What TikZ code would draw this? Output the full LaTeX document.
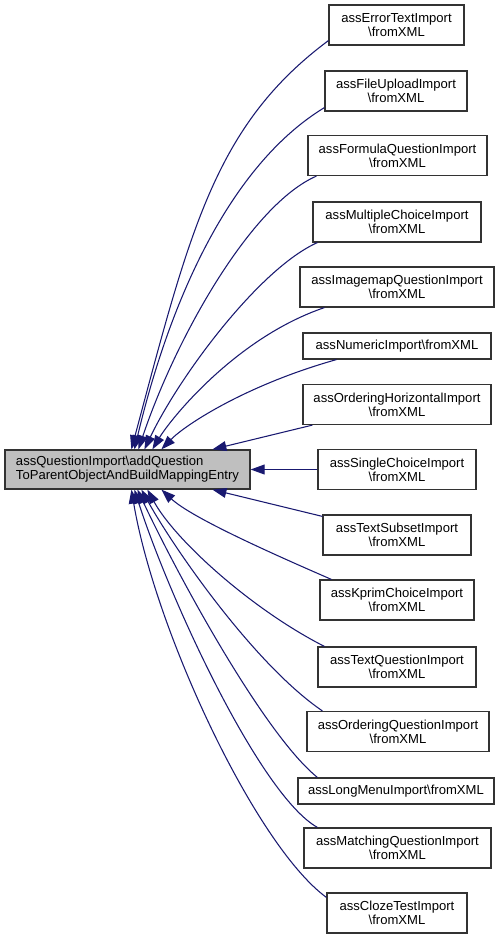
\documentclass[tikz,border=0pt]{standalone}
\usepackage{fontspec}
\setmainfont{Liberation Sans}
\usetikzlibrary{arrows.meta,calc}
\definecolor{edgeblue}{HTML}{191970}
\definecolor{mainfill}{HTML}{BFBFBF}
\newdimen\pxu \pxu=0.75pt
\begin{document}
\begin{tikzpicture}[x=0.75pt,y=-0.75pt,
  box/.style={draw=black!80, line width=0.9pt, fill=white,
    font=\fontsize{9.8pt}{10.5pt}\selectfont, inner sep=0pt, align=center,
    minimum height=40\pxu},
  leaf/.style={box},
  oneline/.style={box, minimum height=26\pxu},
  mainbox/.style={box, fill=mainfill, align=left, text width=223\pxu,
    inner xsep=11\pxu, minimum height=39\pxu},
  edge/.style={draw=edgeblue, line width=0.8pt,
    -{Triangle[length=10.5pt,width=7.4pt]}}
]
\useasboundingbox (0,0) rectangle (501,940);

\node[mainbox] (m) at (127.5,469.5) {assQuestionImport\textbackslash addQuestion\\ToParentObjectAndBuildMappingEntry};

\node[leaf, minimum width=135\pxu] (e1) at (396.5,25) {assErrorTextImport\\\textbackslash fromXML};
\node[leaf, minimum width=142\pxu] (e2) at (396,91) {assFileUploadImport\\\textbackslash fromXML};
\node[leaf, minimum width=179\pxu] (e3) at (397.5,155.5) {assFormulaQuestionImport\\\textbackslash fromXML};
\node[leaf, minimum width=168\pxu] (e4) at (397,222) {assMultipleChoiceImport\\\textbackslash fromXML};
\node[leaf, minimum width=194\pxu] (e5) at (397,287) {assImagemapQuestionImport\\\textbackslash fromXML};
\node[oneline, minimum width=188\pxu] (e6) at (397,346) {assNumericImport\textbackslash fromXML};
\node[leaf, minimum width=188\pxu] (e7) at (397,404.5) {assOrderingHorizontalImport\\\textbackslash fromXML};
\node[leaf, minimum width=158\pxu] (e8) at (397,469.5) {assSingleChoiceImport\\\textbackslash fromXML};
\node[leaf, minimum width=148\pxu] (e9) at (397,535) {assTextSubsetImport\\\textbackslash fromXML};
\node[leaf, minimum width=154\pxu] (e10) at (397,600) {assKprimChoiceImport\\\textbackslash fromXML};
\node[leaf, minimum width=158\pxu] (e11) at (397,667) {assTextQuestionImport\\\textbackslash fromXML};
\node[leaf, minimum width=182\pxu] (e12) at (398,731.5) {assOrderingQuestionImport\\\textbackslash fromXML};
\node[oneline, minimum width=196\pxu] (e13) at (396,791) {assLongMenuImport\textbackslash fromXML};
\node[leaf, minimum width=187\pxu] (e14) at (397.5,848) {assMatchingQuestionImport\\\textbackslash fromXML};
\node[leaf, minimum width=140\pxu] (e15) at (397,913) {assClozeTestImport\\\textbackslash fromXML};

% upper edges
\draw[edge] ($(e1.south west)+(0,-5)$) .. controls (215,125) and (190,230) .. ($(m.north west)+(127,0)$);
\draw[edge] ($(e2.south west)+(0,-4)$) .. controls (230,165) and (170,300) .. ($(m.north west)+(130,0)$);
\draw[edge] ($(e3.south west)+(9,0)$) .. controls (250,205) and (175,340) .. ($(m.north west)+(134,0)$);
\draw[edge] ($(e4.south west)+(5,0)$) .. controls (260,268) and (180,375) .. ($(m.north west)+(140,0)$);
\draw[edge] ($(e5.south west)+(25,0)$) .. controls (235,338) and (170,420) .. ($(m.north west)+(148,0)$);
\draw[edge] ($(e6.south west)+(34,0)$) .. controls (246,385) and (185,425) .. ($(m.north west)+(157,0)$);
\draw[edge] ($(e7.south west)+(10,0)$) -- ($(m.north west)+(208,0)$);
% middle
\draw[edge] (e8.west) -- (m.east);
% lower edges
\draw[edge] ($(e9.north west)+(0,2)$) -- ($(m.south west)+(208,0)$);
\draw[edge] ($(e10.north west)+(12,0)$) .. controls (273,554) and (192,518) .. ($(m.south west)+(157,0)$);
\draw[edge] ($(e11.north west)+(7,0)$) .. controls (251,609) and (175,540) .. ($(m.south west)+(143,0)$);
\draw[edge] ($(e12.north west)+(16,0)$) .. controls (255,665) and (175,550) .. ($(m.south west)+(137,0)$);
\draw[edge] ($(e13.north west)+(20,0)$) .. controls (265,735) and (180,580) .. ($(m.south west)+(133,0)$);
\draw[edge] ($(e14.north west)+(14,0)$) .. controls (260,795) and (170,600) .. ($(m.south west)+(130,0)$);
\draw[edge] ($(e15.north west)+(0,5)$) .. controls (255,845) and (155,630) .. ($(m.south west)+(127,0)$);
\end{tikzpicture}
\end{document}
